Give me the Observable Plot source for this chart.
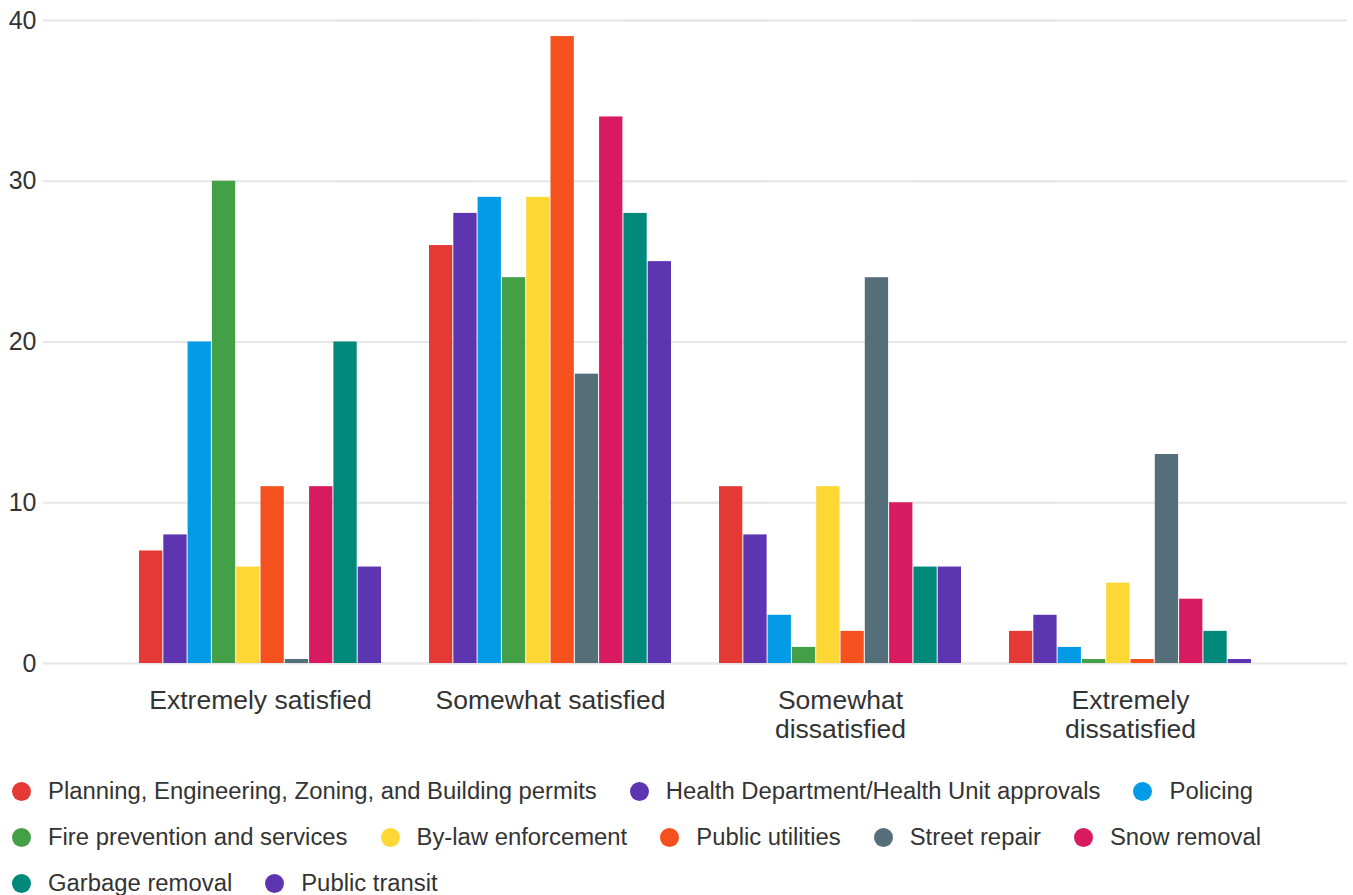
<!DOCTYPE html>
<html>
<head>
<meta charset="utf-8">
<script src="https://cdn.jsdelivr.net/npm/d3@7"></script>
<script src="https://cdn.jsdelivr.net/npm/@observablehq/plot@0.6"></script>
<style>
  html, body { margin: 0; padding: 0; background: #fff; }
  #chart svg { display: block; }
  #legend {
    width: 1353px; box-sizing: border-box; padding-left: 12px;
    display: flex; flex-wrap: wrap; column-gap: 33px;
    font-family: "Liberation Sans", Arial, sans-serif; font-size: 23.85px; color: #333;
    line-height: 46px;
  }
  .item { display: flex; align-items: center; white-space: nowrap; }
  .dot { width: 19px; height: 19px; border-radius: 50%; margin-right: 17px; flex: none; }
</style>
</head>
<body>
<div id="chart"></div>
<div id="legend"></div>
<script>
const categories = ["Extremely satisfied", "Somewhat satisfied", "Somewhat dissatisfied", "Extremely dissatisfied"];
const series = [
  "Planning, Engineering, Zoning, and Building permits",
  "Health Department/Health Unit approvals",
  "Policing",
  "Fire prevention and services",
  "By-law enforcement",
  "Public utilities",
  "Street repair",
  "Snow removal",
  "Garbage removal",
  "Public transit"
];
const colors = ["#e53935", "#5e35b1", "#039be5", "#43a047", "#fdd835", "#f4511e", "#546e7a", "#d81b60", "#00897b", "#5e35b1"];

// values per series, in the order of categories
const planning   = [7, 26, 11, 2];
const health     = [8, 28, 8, 3];
const policing   = [20, 29, 3, 1];
const fire       = [30, 24, 1, 0];
const bylaw      = [6, 29, 11, 5];
const utilities  = [11, 39, 2, 0];
const street     = [0, 18, 24, 13];
const snow       = [11, 34, 10, 4];
const garbage    = [20, 28, 6, 2];
const transit    = [6, 25, 6, 0];
const valuesBySeries = [planning, health, policing, fire, bylaw, utilities, street, snow, garbage, transit];
const yTicks = [0, 10, 20, 30, 40];

const data = [];
series.forEach((s, i) => categories.forEach((c, j) => data.push({category: c, series: s, value: valuesBySeries[i][j]})));

const font = '"Liberation Sans", Arial, sans-serif';
const chart = Plot.plot({
  width: 1353,
  height: 768,
  marginLeft: 43,
  marginRight: 6,
  marginTop: 20,
  marginBottom: 105,
  style: {fontFamily: font, background: "#fff"},
  fx: {domain: categories, paddingInner: 0, paddingOuter: 0.2483, round: false},
  x: {domain: series, paddingInner: 0.041, paddingOuter: 0.988, round: false, axis: null},
  y: {domain: [0, 40]},
  color: {domain: series, range: colors},
  marks: [
    Plot.ruleY(yTicks, {stroke: "#e6e6e6", strokeWidth: 2, insetLeft: -72, insetRight: -72}),
    Plot.barY(data, {fx: "category", x: "series", y: "value", fill: "series"}),
    Plot.barY(data.filter(d => d.value === 0), {fx: "category", x: "series", y: "value", fill: "series", insetTop: -4}),
    Plot.axisY({ticks: yTicks, tickSize: 0, tickPadding: 7, dx: -72, fontSize: 25, color: "#333", label: null}),
    Plot.axisFx({anchor: "bottom", tickSize: 0, tickPadding: 25, fontSize: 26.5, lineWidth: 10.2, lineHeight: 1.1, color: "#333", label: null})
  ]
});
document.getElementById("chart").appendChild(chart);

const legend = document.getElementById("legend");
series.forEach((s, i) => {
  const item = document.createElement("div");
  item.className = "item";
  const dot = document.createElement("span");
  dot.className = "dot";
  dot.style.background = colors[i];
  const label = document.createElement("span");
  label.textContent = s;
  item.appendChild(dot);
  item.appendChild(label);
  legend.appendChild(item);
});
</script>
</body>
</html>
